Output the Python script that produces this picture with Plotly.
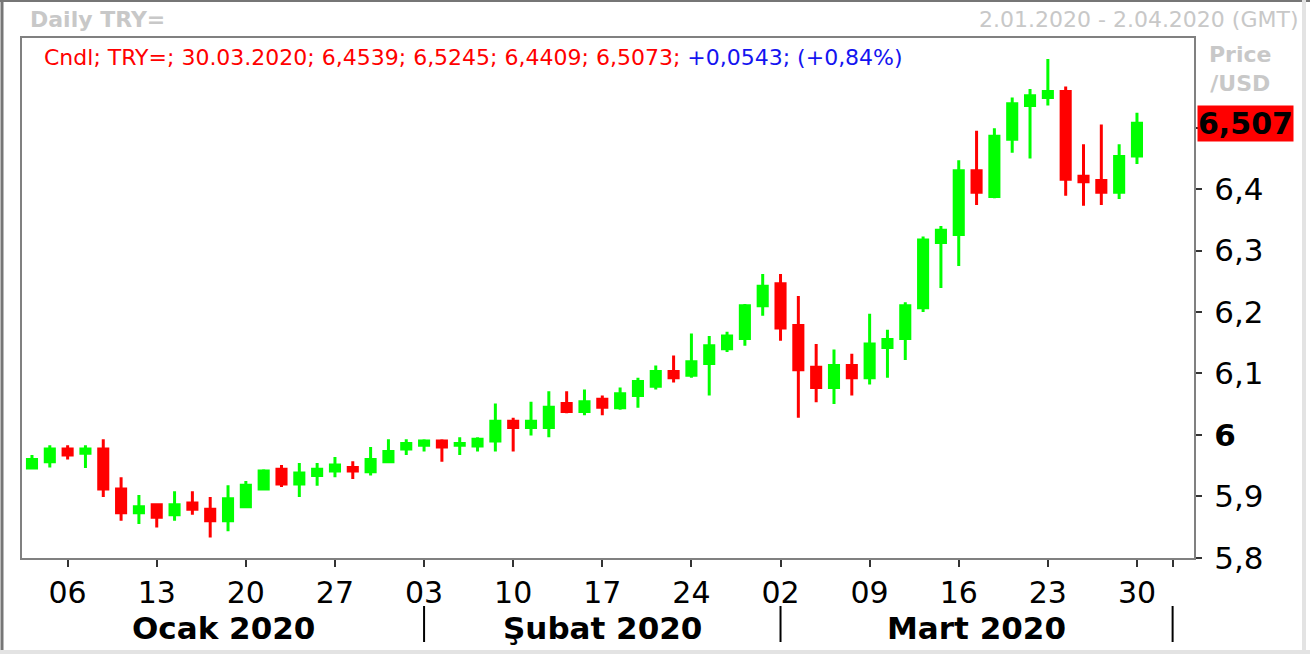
import numpy as np
import pandas as pd
import plotly.graph_objects as go

# ---------------- data ----------------
dates = pd.bdate_range("2020-01-02", "2020-03-30")

open_ = [5.946, 5.956, 5.977, 5.970, 5.977, 5.912, 5.873, 5.886, 5.870, 5.889,
         5.879, 5.860, 5.883, 5.912, 5.944, 5.920, 5.934, 5.941, 5.947, 5.940,
         5.956, 5.977, 5.983, 5.990, 5.983, 5.982, 5.990, 6.022, 6.012, 6.012,
         6.051, 6.038, 6.058, 6.044, 6.064, 6.079, 6.103, 6.097, 6.116, 6.140,
         6.157, 6.210, 6.246, 6.178, 6.110, 6.077, 6.113, 6.093, 6.142, 6.157,
         6.207, 6.313, 6.326, 6.430, 6.388, 6.481, 6.536, 6.549, 6.559, 6.421,
         6.414, 6.395, 6.4539]
high = [5.967, 5.983, 5.983, 5.983, 5.993, 5.931, 5.902, 5.887, 5.908, 5.908,
        5.899, 5.918, 5.925, 5.944, 5.951, 5.954, 5.954, 5.964, 5.957, 5.980,
        5.993, 5.993, 5.993, 5.993, 5.996, 5.996, 6.051, 6.028, 6.054, 6.071,
        6.071, 6.074, 6.064, 6.077, 6.093, 6.113, 6.129, 6.165, 6.161, 6.168,
        6.213, 6.262, 6.262, 6.226, 6.148, 6.139, 6.132, 6.197, 6.171, 6.216,
        6.323, 6.340, 6.447, 6.495, 6.499, 6.549, 6.563, 6.612, 6.567, 6.473,
        6.505, 6.473, 6.5245]
low = [5.944, 5.947, 5.960, 5.946, 5.899, 5.860, 5.855, 5.849, 5.860, 5.870,
       5.833, 5.843, 5.882, 5.912, 5.915, 5.899, 5.917, 5.931, 5.928, 5.934,
       5.954, 5.967, 5.973, 5.956, 5.967, 5.973, 5.973, 5.973, 5.999, 5.996,
       6.035, 6.032, 6.032, 6.041, 6.044, 6.074, 6.085, 6.093, 6.064, 6.135,
       6.145, 6.194, 6.153, 6.028, 6.053, 6.050, 6.064, 6.082, 6.093, 6.122,
       6.200, 6.239, 6.275, 6.374, 6.385, 6.459, 6.450, 6.536, 6.389, 6.373,
       6.374, 6.384, 6.4409]
close = [5.960, 5.977, 5.967, 5.977, 5.912, 5.873, 5.883, 5.866, 5.886, 5.879,
         5.860, 5.896, 5.918, 5.941, 5.920, 5.938, 5.944, 5.951, 5.941, 5.960,
         5.973, 5.986, 5.990, 5.980, 5.986, 5.993, 6.022, 6.012, 6.022, 6.045,
         6.038, 6.054, 6.045, 6.067, 6.087, 6.103, 6.093, 6.119, 6.145, 6.161,
         6.210, 6.242, 6.174, 6.106, 6.077, 6.113, 6.093, 6.148, 6.155, 6.210,
         6.317, 6.333, 6.430, 6.395, 6.486, 6.539, 6.552, 6.559, 6.416, 6.412,
         6.395, 6.453, 6.5073]

tick_dates = ["2020-01-06", "2020-01-13", "2020-01-20", "2020-01-27", "2020-02-03",
              "2020-02-10", "2020-02-17", "2020-02-24", "2020-03-02", "2020-03-09",
              "2020-03-16", "2020-03-23", "2020-03-30", "2020-04-01"]
tick_labels = ["06", "13", "20", "27", "03", "10", "17", "24", "02", "09",
               "16", "23", "30", ""]

month_names = ["Ocak 2020", "Şubat 2020", "Mart 2020"]
month_starts = ["2020-02-03", "2020-03-02", "2020-04-01"]  # separators (next month starts)

y_ticks = [5.8, 5.9, 6.0, 6.1, 6.2, 6.3, 6.4, 6.5]
y_labels = ["5,8", "5,9", "<b>6</b>", "6,1", "6,2", "6,3", "6,4", ""]

# ---------------- helpers ----------------
start = dates[0].strftime("%Y-%m-%d")
x_idx = list(range(len(dates)))
tickvals = [int(np.busday_count(start, d)) for d in tick_dates]
sep_pos = [int(np.busday_count(start, d)) for d in month_starts]

X_RANGE = [-0.56, 65.2]
Y_RANGE = [5.7995, 6.646]

W, H = 1310, 654
ML, MR, MT, MB = 22, 116, 38, 96
PW, PH = W - ML - MR, H - MT - MB


def px(xp):  # pixel x -> paper
    return (xp - ML) / PW


def py(yp):  # pixel y -> paper
    return (H - MB - yp) / PH


def tr(v, n=4):
    return f"{v:.{n}f}".replace(".", ",")


FONT = "DejaVu Sans, Verdana, sans-serif"
GREEN = "#00ff00"
RED = "#ff0000"
GREY_TXT = "#c8c8c8"

fig = go.Figure()
fig.add_trace(go.Candlestick(
    x=x_idx, open=open_, high=high, low=low, close=close,
    increasing=dict(line=dict(color=GREEN, width=3), fillcolor=GREEN),
    decreasing=dict(line=dict(color=RED, width=3), fillcolor=RED),
    whiskerwidth=0, hoverinfo="skip", showlegend=False,
))

# header
chg = close[-1] - close[-2]
pct = chg / close[-2] * 100
hdr_red = (f"Cndl; TRY=; {dates[-1].strftime('%d.%m.%Y')}; {tr(open_[-1])}; "
           f"{tr(high[-1])}; {tr(low[-1])}; {tr(close[-1])};")
hdr_blue = f"{'+' if chg >= 0 else ''}{tr(chg)}; ({'+' if pct >= 0 else ''}{tr(pct, 2)}%)"
header = (f"<span style='color:{RED}'>{hdr_red}</span> "
          f"<span style='color:#1414f0'>{hdr_blue}</span>")

annotations = [
    dict(text=header, x=px(42), y=py(58), xref="paper", yref="paper",
         xanchor="left", yanchor="middle", showarrow=False,
         font=dict(family=FONT, size=22)),
    dict(text="<b>Daily TRY=</b>", x=px(28), y=py(20), xref="paper", yref="paper",
         xanchor="left", yanchor="middle", showarrow=False,
         font=dict(family=FONT, size=22, color=GREY_TXT)),
    dict(text=f"{dates[0].day}.{dates[0].strftime('%m.%Y')} - 2.04.2020 (GMT)",
         x=px(1300), y=py(20), xref="paper", yref="paper",
         xanchor="right", yanchor="middle", showarrow=False,
         font=dict(family=FONT, size=22, color=GREY_TXT)),
    dict(text="<b>Price</b><br><b>/USD</b>", x=px(1240), y=py(69),
         xref="paper", yref="paper", xanchor="center", yanchor="middle",
         showarrow=False, align="center",
         font=dict(family=FONT, size=22, color=GREY_TXT)),
    dict(text=f"<b>{tr(close[-1], 3)}</b>", x=px(1197), y=close[-1],
         xref="paper", yref="y", xanchor="left", yanchor="middle",
         showarrow=False, bgcolor=RED, borderpad=0,
         font=dict(family=FONT, size=30, color="black")),
]

# month labels centred between separators
bounds = [X_RANGE[0]] + sep_pos
for name, a, b in zip(month_names, bounds[:-1], bounds[1:]):
    annotations.append(dict(
        text=f"<b>{name}</b>", x=(a + b) / 2, y=py(628), xref="x", yref="paper",
        xanchor="center", yanchor="middle", showarrow=False,
        font=dict(family=FONT, size=31, color="black")))

shapes = []
for s in sep_pos:
    shapes.append(dict(type="line", xref="x", yref="paper", x0=s, x1=s,
                       y0=py(606), y1=py(642), line=dict(color="black", width=2)))

# outer frame of the picture
shapes += [
    dict(type="line", xref="paper", yref="paper", x0=px(2), x1=px(2),
         y0=py(0), y1=py(654), line=dict(color="#767676", width=3)),
    dict(type="line", xref="paper", yref="paper", x0=px(0), x1=px(1310),
         y0=py(1), y1=py(1), line=dict(color="#767676", width=2)),
    dict(type="line", xref="paper", yref="paper", x0=px(1304), x1=px(1304),
         y0=py(0), y1=py(654), line=dict(color="#e3e3e3", width=4)),
    dict(type="line", xref="paper", yref="paper", x0=px(0), x1=px(1310),
         y0=py(652), y1=py(652), line=dict(color="#e3e3e3", width=4)),
]

fig.update_layout(
    width=W, height=H,
    margin=dict(l=ML, r=MR, t=MT, b=MB, pad=0, autoexpand=False),
    paper_bgcolor="white", plot_bgcolor="white",
    boxmode="overlay", boxgap=0.49, boxgroupgap=0,
    font=dict(family=FONT, color="black"),
    annotations=annotations, shapes=shapes,
    xaxis=dict(
        range=X_RANGE, tickmode="array", tickvals=tickvals, ticktext=tick_labels,
        ticks="outside", ticklen=7, tickwidth=2, tickcolor="#333333",
        ticklabelstandoff=0, automargin=False,
        showline=True, linecolor="#808080", linewidth=2, mirror=True,
        showgrid=False, zeroline=False, rangeslider=dict(visible=False),
        tickfont=dict(family=FONT, size=30, color="black"), fixedrange=True,
    ),
    yaxis=dict(
        range=Y_RANGE, side="right", tickmode="array", tickvals=y_ticks,
        ticktext=y_labels, ticks="outside", ticklen=6, tickwidth=2,
        tickcolor="#333333", ticklabelstandoff=6, automargin=False,
        showline=True, linecolor="#808080", linewidth=2, mirror=True,
        showgrid=False, zeroline=False,
        tickfont=dict(family=FONT, size=31, color="black"), fixedrange=True,
    ),
)

fig.write_html(
    "out.html",
    config={"displayModeBar": False, "staticPlot": True},
    post_script="document.body.style.margin='0';document.body.style.padding='0';"
                "document.body.style.overflow='hidden';",
)
